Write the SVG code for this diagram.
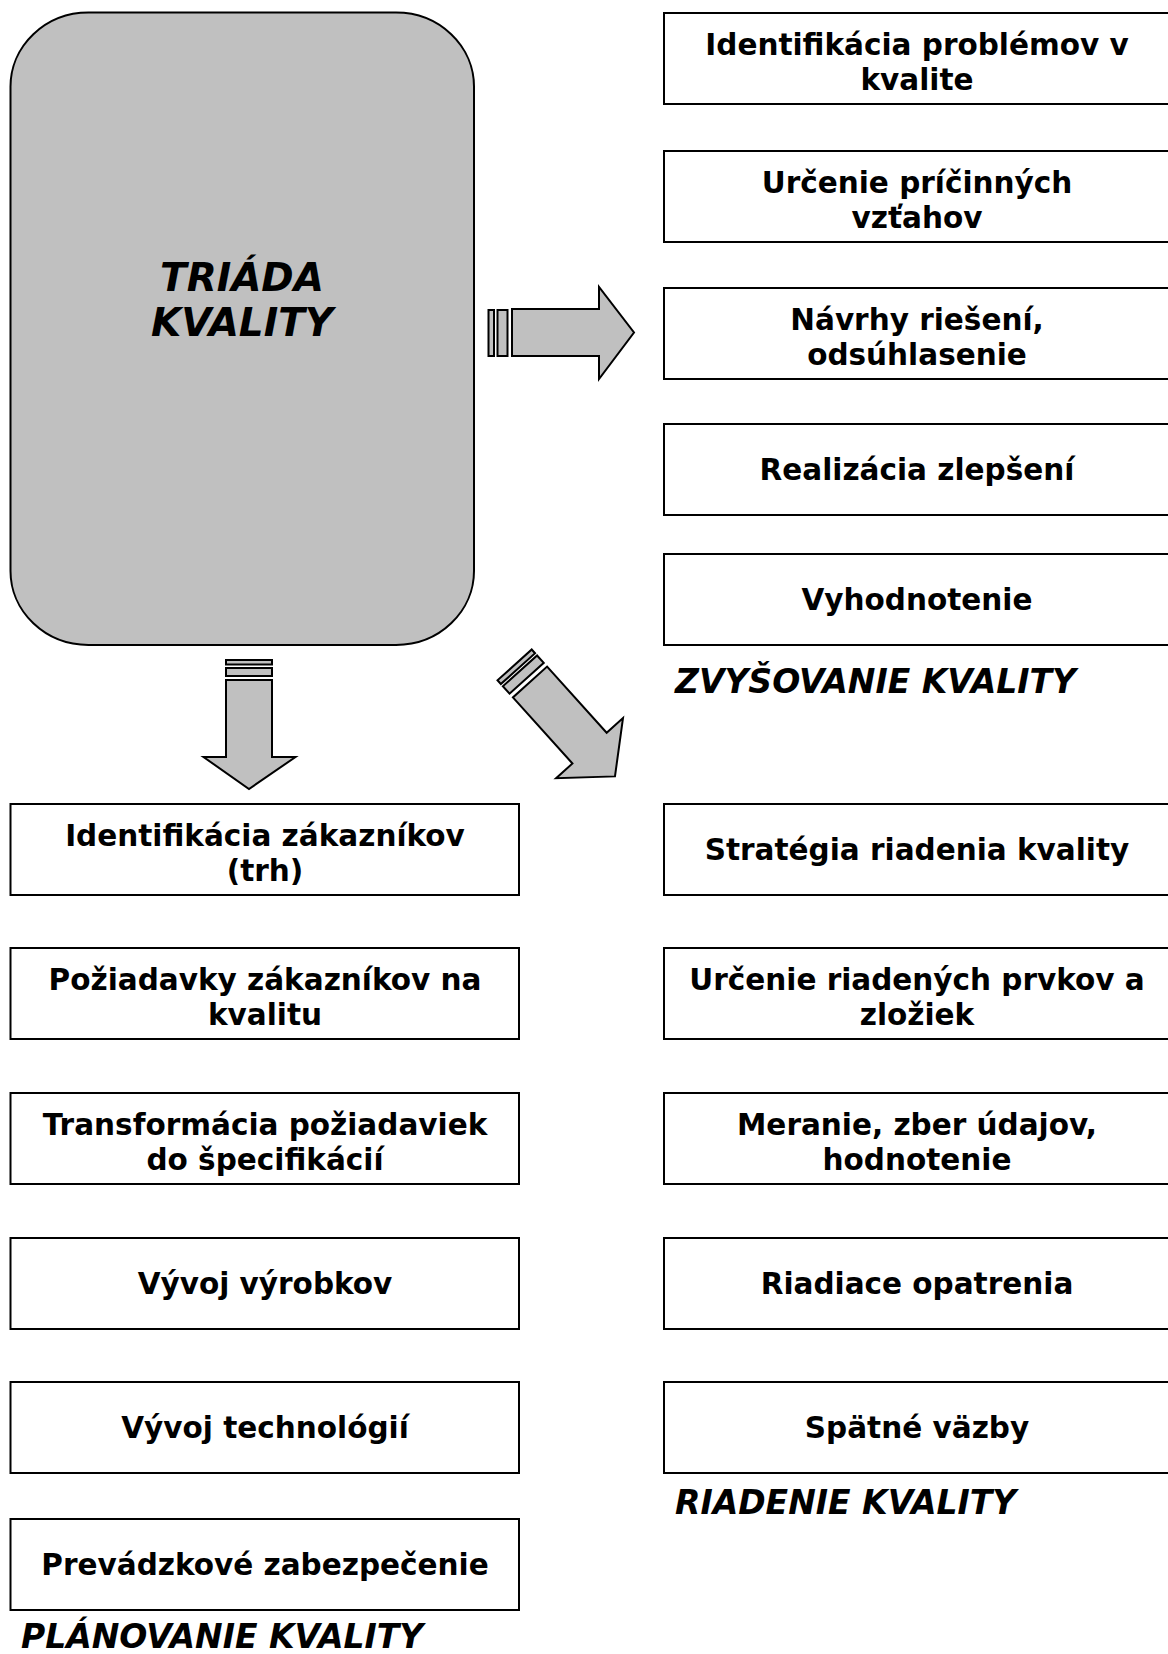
<svg xmlns="http://www.w3.org/2000/svg" width="1168" height="1654" viewBox="0 0 1168 1654">
  <style>
    .box { fill: #ffffff; stroke: #000000; stroke-width: 2; }
    .lbl { font-family: "DejaVu Sans", Verdana, sans-serif; font-weight: bold; font-size: 29.5px; fill: #000000; text-anchor: middle; }
    .head { font-family: "DejaVu Sans", Verdana, sans-serif; font-weight: bold; font-style: italic; font-size: 33px; fill: #000000; }
    .arrow { fill: #c0c0c0; stroke: #000000; stroke-width: 2; stroke-linejoin: miter; }
  </style>
  <rect width="1168" height="1654" fill="#ffffff"/>

  <!-- central element -->
  <g id="triada">
    <rect x="10.5" y="12.5" width="463.5" height="632.5" rx="78" ry="74" fill="#c0c0c0" stroke="#000000" stroke-width="2"/>
    <text x="242" y="291" font-family="DejaVu Sans, Verdana, sans-serif" font-weight="bold" font-style="italic" font-size="39" text-anchor="middle">TRIÁDA</text>
    <text x="242" y="336" font-family="DejaVu Sans, Verdana, sans-serif" font-weight="bold" font-style="italic" font-size="39" text-anchor="middle">KVALITY</text>
  </g>

  <!-- block arrows -->
  <g id="connectors">
    <g id="arrow-right">
      <rect class="arrow" x="488.5" y="310" width="5.5" height="46"/>
      <rect class="arrow" x="497.5" y="310" width="10" height="46"/>
      <path class="arrow" d="M512 309 H599 V287 L634 332.5 L599 379 V356 H512 Z"/>
    </g>
    <g id="arrow-down">
      <rect class="arrow" x="226" y="660" width="46" height="4.5"/>
      <rect class="arrow" x="226" y="668" width="46" height="8"/>
      <path class="arrow" d="M226 680 V757 H203.5 L249 789 L295.5 757 H272 V680 Z"/>
    </g>
    <g id="arrow-diagonal" transform="translate(530 682) rotate(48)">
      <rect class="arrow" x="-23" y="-23" width="5" height="46"/>
      <rect class="arrow" x="-15" y="-23" width="10" height="46"/>
      <path class="arrow" d="M0 -23 H89 V-45 L127 0 L89 45 V23 H0 Z"/>
    </g>
  </g>

  <!-- improvement column -->
  <g id="zvysovanie-1"><rect class="box" x="664" y="13" width="510" height="91"/><text class="lbl" x="917" y="55">Identifikácia problémov v</text><text class="lbl" x="917" y="90">kvalite</text></g>
  <g id="zvysovanie-2"><rect class="box" x="664" y="151" width="510" height="91"/><text class="lbl" x="917" y="193">Určenie príčinných</text><text class="lbl" x="917" y="228">vzťahov</text></g>
  <g id="zvysovanie-3"><rect class="box" x="664" y="288" width="510" height="91"/><text class="lbl" x="917" y="330">Návrhy riešení,</text><text class="lbl" x="917" y="365">odsúhlasenie</text></g>
  <g id="zvysovanie-4"><rect class="box" x="664" y="424" width="510" height="91"/><text class="lbl" x="917" y="480">Realizácia zlepšení</text></g>
  <g id="zvysovanie-5"><rect class="box" x="664" y="554" width="510" height="91"/><text class="lbl" x="917" y="610">Vyhodnotenie</text></g>
  <text class="head" x="675" y="693">ZVYŠOVANIE KVALITY</text>

  <!-- control column -->
  <g id="riadenie-1"><rect class="box" x="664" y="804" width="510" height="91"/><text class="lbl" x="917" y="860">Stratégia riadenia kvality</text></g>
  <g id="riadenie-2"><rect class="box" x="664" y="948" width="510" height="91"/><text class="lbl" x="917" y="990">Určenie riadených prvkov a</text><text class="lbl" x="917" y="1025">zložiek</text></g>
  <g id="riadenie-3"><rect class="box" x="664" y="1093" width="510" height="91"/><text class="lbl" x="917" y="1135">Meranie, zber údajov,</text><text class="lbl" x="917" y="1170">hodnotenie</text></g>
  <g id="riadenie-4"><rect class="box" x="664" y="1238" width="510" height="91"/><text class="lbl" x="917" y="1294">Riadiace opatrenia</text></g>
  <g id="riadenie-5"><rect class="box" x="664" y="1382" width="510" height="91"/><text class="lbl" x="917" y="1438">Spätné väzby</text></g>
  <text class="head" x="675" y="1514">RIADENIE KVALITY</text>

  <!-- planning column -->
  <g id="planovanie-1"><rect class="box" x="10.5" y="804" width="508.5" height="91"/><text class="lbl" x="265" y="846">Identifikácia zákazníkov</text><text class="lbl" x="265" y="881">(trh)</text></g>
  <g id="planovanie-2"><rect class="box" x="10.5" y="948" width="508.5" height="91"/><text class="lbl" x="265" y="990">Požiadavky zákazníkov na</text><text class="lbl" x="265" y="1025">kvalitu</text></g>
  <g id="planovanie-3"><rect class="box" x="10.5" y="1093" width="508.5" height="91"/><text class="lbl" x="265" y="1135">Transformácia požiadaviek</text><text class="lbl" x="265" y="1170">do špecifikácií</text></g>
  <g id="planovanie-4"><rect class="box" x="10.5" y="1238" width="508.5" height="91"/><text class="lbl" x="265" y="1294">Vývoj výrobkov</text></g>
  <g id="planovanie-5"><rect class="box" x="10.5" y="1382" width="508.5" height="91"/><text class="lbl" x="265" y="1438">Vývoj technológií</text></g>
  <g id="planovanie-6"><rect class="box" x="10.5" y="1519" width="508.5" height="91"/><text class="lbl" x="265" y="1575">Prevádzkové zabezpečenie</text></g>
  <text class="head" x="21" y="1648">PLÁNOVANIE KVALITY</text>
</svg>
